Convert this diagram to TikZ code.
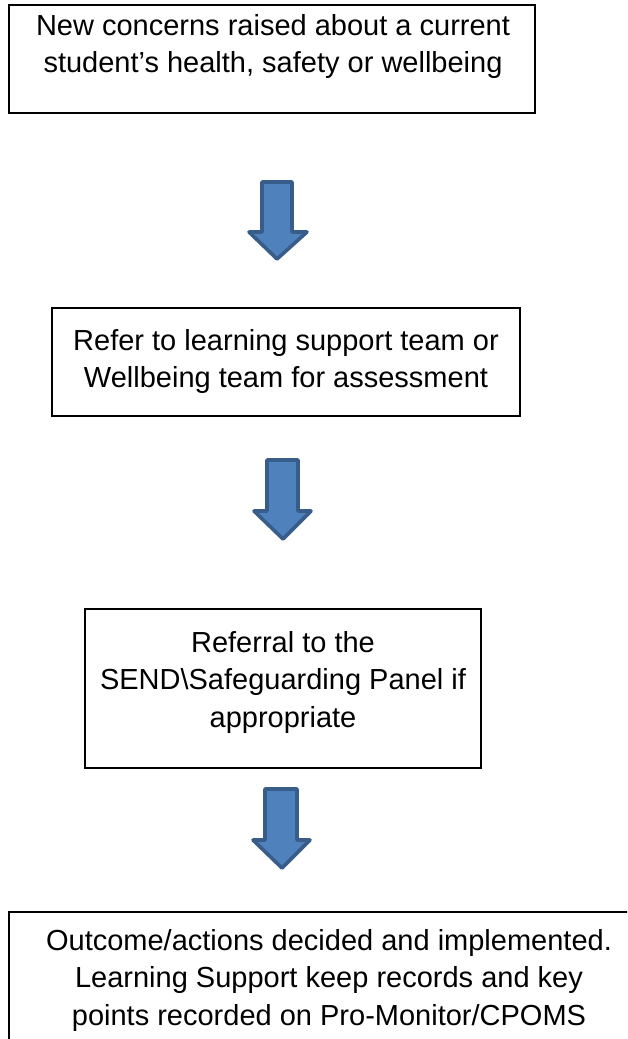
\documentclass[tikz,border=0pt]{standalone}
\usepackage{fontspec}
\setmainfont{Liberation Sans}
\definecolor{arrowfill}{HTML}{4F81BD}
\definecolor{arrowline}{HTML}{385D8A}
\tikzset{
  boxframe/.style={draw=black, line width=2.2pt, inner sep=0pt},
  thinframe/.style={draw=black, line width=1.3pt, inner sep=0pt},
  boxtext/.style={align=center, inner sep=0pt, anchor=north, font=\fontsize{29}{37.5}\selectfont},
  blockarrow/.style={fill=arrowfill, draw=arrowline, line width=3.6pt, line join=round}
}
\begin{document}
\begin{tikzpicture}[x=1pt,y=-1pt]
\useasboundingbox (0,0) rectangle (627,1039);
\clip (0,0) rectangle (627,1039);
% boxes
\node[boxframe, minimum width=526pt, minimum height=108pt] (b1) at (272,59) {};
\node[boxtext] (t1) at (273,14) {New concerns raised about a current\\student’s health, safety or wellbeing};
\node[boxframe, minimum width=468pt, minimum height=108pt] (b2) at (286,362) {};
\node[boxtext] (t2) at (286,329) {Refer to learning support team or\\Wellbeing team for assessment};
\node[boxframe, minimum width=396pt, minimum height=159pt] (b3) at (283,688.5) {};
\node[boxtext] (t3) at (283,631) {Referral to the\\SEND\textbackslash Safeguarding Panel if\\appropriate};
\node[thinframe, minimum width=640pt, minimum height=160pt] (b4) at (329,992) {};
\node[boxtext] (t4) at (329,929) {Outcome/actions decided and implemented.\\Learning Support keep records and key\\points recorded on Pro-Monitor/CPOMS};
% arrows
\draw[blockarrow] (262,182) -- (292,182) -- (292,232) -- (307,232) -- (277,259) -- (249,232) -- (262,232) -- cycle;
\draw[blockarrow] (267,460) -- (298,460) -- (298,511) -- (311,511) -- (283,539) -- (254,511) -- (267,511) -- cycle;
\draw[blockarrow] (265,789) -- (297,789) -- (297,840) -- (310,840) -- (282,868) -- (253,840) -- (265,840) -- cycle;
\end{tikzpicture}
\end{document}
